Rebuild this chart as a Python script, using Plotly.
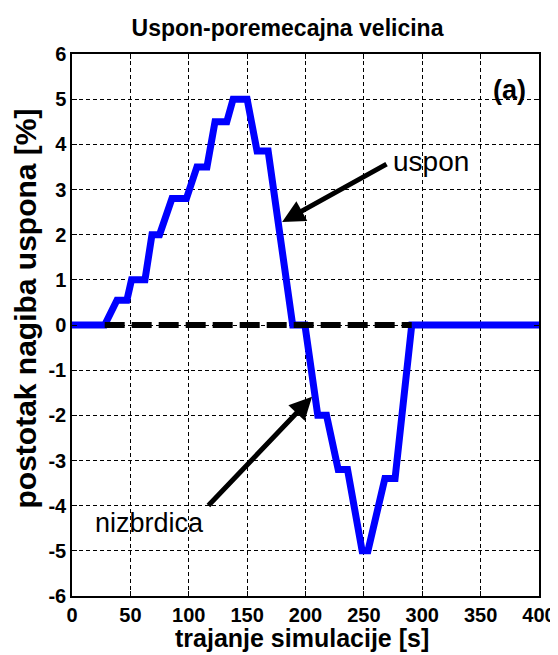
import plotly.graph_objects as go

# disturbance signal (time [s], slope [%])
T_S = [0, 28, 38.5, 47, 51, 62.5, 68.5, 75, 85.6, 98, 107, 115.6, 122.5, 132.6,
       138, 150, 158.5, 168, 189, 199.5, 210.5, 218, 228, 236, 248.5, 253.5,
       268, 276.7, 291, 400]
SLOPE = [0, 0, 0.55, 0.55, 1.0, 1.0, 2.0, 2.0, 2.8, 2.8, 3.5, 3.5, 4.5, 4.5,
         5.0, 5.0, 3.85, 3.85, 0, 0, -2.0, -2.0, -3.2, -3.2, -5.0, -5.0,
         -3.4, -3.4, 0, 0]

# zero reference (dashed)
REF_T = [28, 291]
REF_Y = [0, 0]

X_TICKS = [0, 50, 100, 150, 200, 250, 300, 350, 400]
Y_TICKS = [-6, -5, -4, -3, -2, -1, 0, 1, 2, 3, 4, 5, 6]

FONT = "Liberation Sans, Arial, sans-serif"

# page body has an 8px margin, so the figure is 8px smaller than the window
W, H = 550, 647

fig = go.Figure()
fig.add_trace(go.Scatter(x=T_S, y=SLOPE, mode="lines",
                         line=dict(color="#0000ff", width=7),
                         showlegend=False, hoverinfo="skip"))
fig.add_trace(go.Scatter(x=REF_T, y=REF_Y, mode="lines",
                         line=dict(color="black", width=6, dash="20px,7px"),
                         showlegend=False, hoverinfo="skip"))

ann = []
# arrows
ann.append(dict(x=180, y=2.28, ax=270.7, ay=3.58, axref="x", ayref="y",
                xref="x", yref="y", text="", showarrow=True, arrowhead=2,
                arrowsize=0.9, arrowwidth=5, arrowcolor="black"))
ann.append(dict(x=205.6, y=-1.59, ax=115.6, ay=-4.03, axref="x", ayref="y",
                xref="x", yref="y", text="", showarrow=True, arrowhead=2,
                arrowsize=0.9, arrowwidth=5, arrowcolor="black"))
# labels
ann.append(dict(x=273, y=3.62, xref="x", yref="y", text="uspon", showarrow=False,
                xanchor="left", yanchor="middle", font=dict(size=28, color="black", family=FONT)))
ann.append(dict(x=66, y=-4.38, xref="x", yref="y", text="nizbrdica", showarrow=False,
                xanchor="center", yanchor="middle", font=dict(size=27, color="black", family=FONT)))
ann.append(dict(x=375, y=5.2, xref="x", yref="y", text="<b>(a)</b>", showarrow=False,
                xanchor="center", yanchor="middle", font=dict(size=27, color="black", family=FONT)))
# axis titles
ann.append(dict(x=0.4925, y=-0.078, xref="paper", yref="paper", text="<b>trajanje simulacije [s]</b>",
                showarrow=False, xanchor="center", yanchor="middle",
                font=dict(size=25, color="black", family=FONT)))
ann.append(dict(x=-0.1, y=0.531, xref="paper", yref="paper", text="<b>postotak nagiba uspona [%]</b>",
                showarrow=False, xanchor="center", yanchor="middle", textangle=-90,
                font=dict(size=30, color="black", family=FONT)))

fig.update_layout(
    width=W, height=H,
    margin=dict(l=64, r=19, t=46, b=59, autoexpand=False),
    paper_bgcolor="white", plot_bgcolor="white",
    font=dict(family=FONT, color="black"),
    title=dict(text="<b>Uspon-poremecajna velicina</b>", x=279.5 / W, xanchor="center",
               y=1 - 20 / H, yanchor="middle", font=dict(size=23, color="black")),
    annotations=ann,
)

axis_common = dict(
    showline=True, linecolor="black", linewidth=1.5, mirror="ticks",
    ticks="inside", ticklen=5, tickcolor="black",
    showgrid=True, gridcolor="black", gridwidth=1, griddash="4px,3px",
    zeroline=False, automargin=False,
    tickfont=dict(size=20, color="black", family=FONT),
)

fig.update_xaxes(range=[0, 400], tickvals=X_TICKS,
                 ticktext=[f"<b>{v}</b>" for v in X_TICKS],
                 **axis_common)
fig.update_yaxes(range=[-6, 6], tickvals=Y_TICKS,
                 ticktext=[f"<b>{v}</b>" for v in Y_TICKS],
                 **axis_common)

fig.write_html("out.html", config={"displayModeBar": False})
